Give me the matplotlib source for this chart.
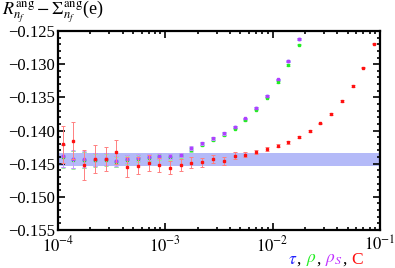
import matplotlib.pyplot as plt
import numpy as np

plt.rcParams['font.family'] = ['Liberation Serif', 'DejaVu Serif']
plt.rcParams['mathtext.fontset'] = 'stix'

# cut values
x_vals = [1.11e-4, 1.39e-4, 1.75e-4, 2.21e-4, 2.78e-4, 3.50e-4, 4.41e-4, 5.55e-4,
          6.98e-4, 8.79e-4, 1.11e-3, 1.39e-3, 1.75e-3, 2.21e-3, 2.78e-3, 3.50e-3,
          4.41e-3, 5.55e-3, 6.98e-3, 8.79e-3, 1.11e-2, 1.39e-2, 1.75e-2, 2.21e-2,
          2.78e-2, 3.50e-2, 4.41e-2, 5.55e-2, 6.98e-2, 8.79e-2]

# C (red)
c_vals = [-0.14208, -0.14154, -0.14520, -0.14430, -0.14430, -0.14320, -0.14546, -0.14531,
          -0.14494, -0.14520, -0.14561, -0.14520, -0.14485, -0.14479, -0.14425, -0.14455,
          -0.14380, -0.14365, -0.14320, -0.14279, -0.14229, -0.14178, -0.14098, -0.14008,
          -0.13891, -0.13751, -0.13555, -0.13329, -0.13053, -0.12691]
c_err = [0.0028, 0.0028, 0.0023, 0.0021, 0.0018, 0.0018, 0.0015, 0.0013,
         0.0012, 0.0011, 0.0010, 0.0009, 0.0008, 0.0007, 0.0006, 0.0006,
         0.0005, 0.0004, 0.0003, 0.0003, 0.0002, 0.0002, 0.0001, 0.0001,
         0.0001, 0.0001, 0.0001, 0.0001, 0.0001, 0.0001]

# rho_S (purple)
rs_vals = [-0.14380, -0.14430, -0.14434, -0.14434, -0.14425, -0.14460, -0.14430, -0.14410,
           -0.14400, -0.14384, -0.14389, -0.14365, -0.14268, -0.14193, -0.14118, -0.14042,
           -0.13943, -0.13816, -0.13656, -0.13475, -0.13228, -0.12952, -0.12616]
rs_err = [0.0017, 0.0013, 0.0012, 0.0010, 0.0009, 0.0008, 0.0006, 0.0005,
          0.0005, 0.0004, 0.0004, 0.0003, 0.0003, 0.0002, 0.0002, 0.0002,
          0.0001, 0.0001, 0.0001, 0.0001, 0.0001, 0.0001, 0.0001]

# rho (green)
rho_vals = [-0.14395, -0.14445, -0.14450, -0.14450, -0.14440, -0.14475, -0.14445, -0.14425,
            -0.14415, -0.14400, -0.14405, -0.14385, -0.14290, -0.14215, -0.14140, -0.14065,
            -0.13970, -0.13846, -0.13686, -0.13505, -0.13269, -0.13013, -0.12707]

# tau (blue)
tau_vals = [-0.14385, -0.14435, -0.14438, -0.14438, -0.14430, -0.14465, -0.14435, -0.14415,
            -0.14405, -0.14390, -0.14394, -0.14370, -0.14273, -0.14198, -0.14122, -0.14046,
            -0.13948, -0.13820, -0.13660, -0.13480, -0.13233, -0.12957, -0.12620]

band_lo = -0.14535
band_hi = -0.14334

fig = plt.figure(figsize=(3.95, 2.68), dpi=100)
ax = fig.add_axes([0.147, 0.142, 0.815, 0.742])

ax.axhspan(band_lo, band_hi, color='#b4baf8', lw=0, zorder=1)

n = len(rs_vals)
kw = dict(fmt='s', ms=1.7, elinewidth=0.7, capsize=1.4, capthick=0.7)
ax.errorbar(x_vals[:n], tau_vals, yerr=rs_err, color='#3a3aff', ecolor='#9090ff', zorder=3, **kw)
ax.errorbar(x_vals[:n], rho_vals, yerr=rs_err, color='#22ee22', ecolor='#99ee99', zorder=3, **kw)
ax.errorbar(x_vals[:n], rs_vals, yerr=rs_err, color='#b040ff', ecolor='#c898ff', zorder=4, **kw)
ax.errorbar(x_vals, c_vals, yerr=c_err, color='#ff1010', ecolor='#ff8080', zorder=5, **kw)

ax.set_xscale('log')
ax.set_xlim(1e-4, 1e-1)
ax.set_ylim(-0.155, -0.125)
ax.set_xticks([1e-4, 1e-3, 1e-2, 1e-1])
ax.set_xticklabels([r'$10^{-4}$', r'$10^{-3}$', r'$10^{-2}$', r'$10^{-1}$'])
yt = np.arange(-0.155, -0.1249, 0.005)
ax.set_yticks(yt)
ax.set_yticklabels([('%.3f' % v).replace('-', '\u2212') for v in yt])
ax.set_yticks(np.arange(-0.155, -0.1249, 0.001), minor=True)

for s in ax.spines.values():
    s.set_linewidth(1.6)
ax.tick_params(which='both', direction='in', top=True, right=True, labelsize=12,
               width=1.2)
ax.tick_params(axis='x', pad=4)
ax.tick_params(axis='y', pad=2)
ax.tick_params(which='major', length=5)
ax.tick_params(which='minor', length=2.5)

fig.text(0.005, 0.955, r'$R^{\rm ang}_{n_f}-\Sigma^{\rm ang}_{n_f}$(e)', fontsize=13,
         va='center', ha='left')

# coloured legend text
parts = [(r'$\tau$', '#2020ff'), (', ', 'black'), (r'$\rho$', '#22ee22'), (', ', 'black'),
         (r'$\rho_S$', '#c030ff'), (', ', 'black'), ('C', '#ff1010')]
xt = 0.728
for txt, col in parts:
    t = fig.text(xt, 0.03, txt, color=col, fontsize=12.5, va='center', ha='left')
    fig.canvas.draw()
    bb = t.get_window_extent()
    xt += bb.width / fig.bbox.width

fig.savefig('out.png', dpi=100)
